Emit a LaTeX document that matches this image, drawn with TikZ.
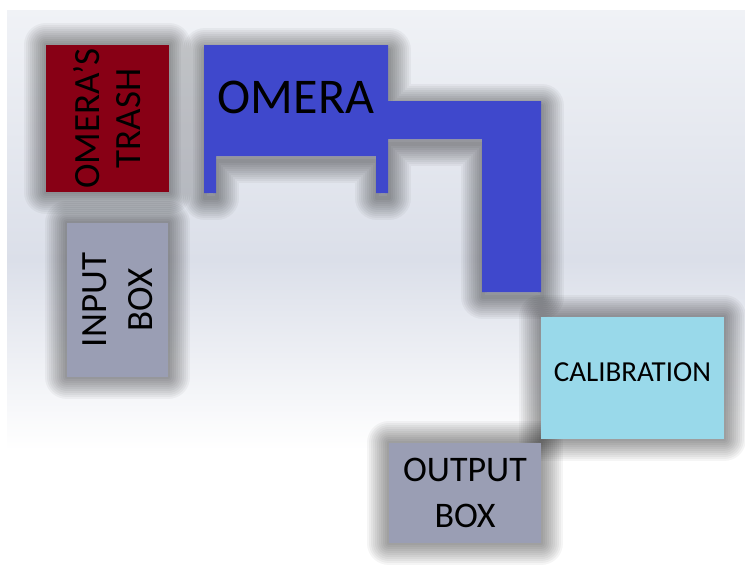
\documentclass[tikz,border=0pt]{standalone}
\usepackage{fontspec}
\setmainfont{Carlito}
\usetikzlibrary{backgrounds}
\definecolor{trashred}{RGB}{136,0,21}
\definecolor{boxgray}{RGB}{154,158,180}
\definecolor{omerablue}{RGB}{63,72,204}
\definecolor{calcyan}{RGB}{153,217,234}
\definecolor{bgtop}{RGB}{240,242,246}
\definecolor{bgmid}{RGB}{219,223,233}

% soft shadow behind a closed path
\newcommand{\softshadow}[1]{%
  \foreach \w in {44,40,...,4} {%
    \draw[black, opacity=0.04, line width=\w pt, line join=round, yshift=-5pt, xshift=1pt] #1;}}

\begin{document}
\begin{tikzpicture}[x=1pt, y=-1pt]
\tikzset{
  box/.style={rectangle, inner sep=0pt, align=center, text=black},
}
\useasboundingbox (0,0) rectangle (745,571);

% OMERA gantry
\def\gantry{(204,45) -- (388,45) -- (388,101) -- (541,101) -- (541,292) -- (482,292)
  -- (482,139) -- (388,139) -- (388,193) -- (376,193) -- (376,156) -- (216,156) -- (216,193)
  -- (204,193) -- cycle}
\fill[omerablue] \gantry;
\node[font=\fontsize{50}{50}\selectfont] (omera) at (296,97) {OMERA};

% boxes
\node[box, fill=trashred, rotate=90, minimum width=147pt, minimum height=123pt,
  font=\fontsize{37}{41}\selectfont] (trash) at (107.5,118.5) {OMERA’S\\TRASH};
\node[box, fill=boxgray, rotate=90, minimum width=154pt, minimum height=101pt,
  font=\fontsize{37}{46}\selectfont] (input) at (117.5,300) {INPUT\\BOX};
\node[box, fill=calcyan, minimum width=183pt, minimum height=122pt, text depth=12pt,
  font=\fontsize{29}{29}\selectfont] (calib) at (632.5,378) {CALIBRATION};
\node[box, fill=boxgray, minimum width=152pt, minimum height=100pt,
  font=\fontsize{36}{46}\selectfont] (output) at (465,493) {OUTPUT\\BOX};

\begin{scope}[on background layer]
  % backdrop
  \fill[white] (0,0) rectangle (745,571);
  \shade[top color=bgtop, bottom color=bgmid] (7,10) rectangle (745,260);
  \shade[top color=bgmid, bottom color=white] (7,260) rectangle (745,450);
  % shadows
  \softshadow{\gantry}
  \foreach \n in {trash,input,calib,output} {%
    \softshadow{(\n.south west) rectangle (\n.north east)}}
\end{scope}
\end{tikzpicture}
\end{document}
